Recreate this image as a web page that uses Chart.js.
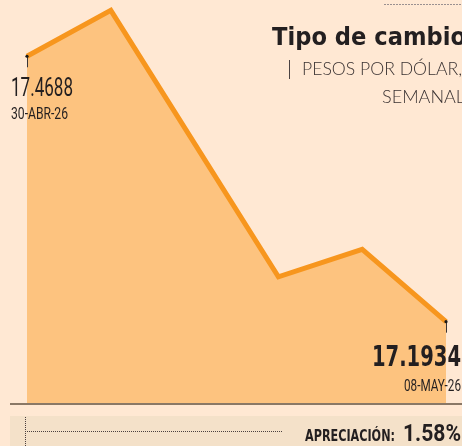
<!DOCTYPE html>
<html>
<head>
<meta charset="utf-8">
<script src="https://cdn.jsdelivr.net/npm/chart.js@4/dist/chart.umd.min.js"></script>
<style>
  html, body { margin: 0; padding: 0; background: #ffe8d3; overflow: hidden; }
  canvas { display: block; }
</style>
</head>
<body>
<canvas id="grafica" width="462" height="446"></canvas>
<script>
// datos (dias habiles, un dia sin dato)
const fechas = ["30-ABR-26", "04-MAY-26", "05-MAY-26", "06-MAY-26", "07-MAY-26", "08-MAY-26"];
const tipoCambio = [17.4688, 17.5165, null, 17.2400, 17.2684, 17.1934];
const titulo = "Tipo de cambio";
const subtitulo = ["PESOS POR DÓLAR,", "SEMANAL"];
const etiquetaApreciacion = "APRECIACIÓN:";
const apreciacion = "1.58%";

const TINTA = "#231f20";
const NARANJA = "#f7961e";
const RELLENO = "#fdc37f";

// texto ajustado al ancho (las fuentes del original son condensadas)
function texto(ctx, t, x, y, font, ancho, align, color) {
  ctx.save();
  ctx.font = font;
  ctx.fillStyle = color || TINTA;
  ctx.textAlign = "left";
  ctx.textBaseline = "alphabetic";
  const w = ctx.measureText(t).width;
  const sx = ancho ? ancho / w : 1;
  const x0 = align === "right" ? x - w * sx : x;
  ctx.translate(x0, y);
  ctx.scale(sx, 1);
  ctx.fillText(t, 0, 0);
  ctx.restore();
}

const decoracion = {
  id: "decoracion",
  beforeDraw(chart) {
    const ctx = chart.ctx;
    const { width, height } = chart;
    ctx.save();
    ctx.fillStyle = "#ffe8d3";
    ctx.fillRect(0, 0, width, height);
    // franja inferior
    ctx.fillStyle = "#f4e1c9";
    ctx.fillRect(10, 416, width - 10, height - 416);
    ctx.strokeStyle = "#4a4040";
    ctx.lineWidth = 1;
    ctx.setLineDash([1, 1]);
    ctx.beginPath();
    ctx.moveTo(25.5, 417);
    ctx.lineTo(25.5, height);
    ctx.moveTo(25, 431.5);
    ctx.lineTo(283, 431.5);
    ctx.stroke();
    // linea punteada arriba a la derecha
    ctx.strokeStyle = "#9a9090";
    ctx.setLineDash([2, 1]);
    ctx.beginPath();
    ctx.moveTo(384, 4.5);
    ctx.lineTo(width, 4.5);
    ctx.stroke();
    ctx.restore();
  },
  afterDatasetsDraw(chart) {
    const ctx = chart.ctx;
    const area = chart.chartArea;
    const pts = chart.getDatasetMeta(0).data.filter((p, i) => tipoCambio[i] !== null);
    const primero = pts[0];
    const ultimo = pts[pts.length - 1];
    ctx.save();
    // linea base
    ctx.fillStyle = "#8a7866";
    ctx.fillRect(10, area.bottom, chart.width - 10, 2);
    // marcas en extremos
    ctx.strokeStyle = "#3a3535";
    ctx.lineWidth = 1;
    [primero, ultimo].forEach(p => {
      ctx.beginPath();
      ctx.moveTo(Math.round(p.x) + 0.5, p.y);
      ctx.lineTo(Math.round(p.x) + 0.5, p.y + 11);
      ctx.stroke();
      ctx.fillStyle = "#1a1a1a";
      ctx.beginPath();
      ctx.arc(p.x, p.y, 1.6, 0, Math.PI * 2);
      ctx.fill();
    });
    // etiquetas de valor
    texto(ctx, tipoCambio[0].toFixed(4), primero.x - 16, primero.y + 40, "25px Roboto", 62);
    texto(ctx, fechas[0], primero.x - 16, primero.y + 63, "17px Roboto", 57);
    const n = tipoCambio.length - 1;
    texto(ctx, tipoCambio[n].toFixed(4), ultimo.x + 15, ultimo.y + 44, "bold 28px 'DejaVu Sans'", 89, "right");
    texto(ctx, fechas[n], ultimo.x + 15, ultimo.y + 69, "17px Roboto", 57, "right");
    // titulo
    texto(ctx, titulo, 272, 45, "bold 24px 'DejaVu Sans'", 194);
    ctx.fillStyle = "#4a4242";
    ctx.fillRect(289, 60, 1, 19);
    texto(ctx, subtitulo[0], 302, 75, "300 17px Lato", 160, null, "#3a3232");
    texto(ctx, subtitulo[1], 382, 103, "300 17px Lato", 83, null, "#3a3232");
    // apreciacion
    texto(ctx, etiquetaApreciacion, 305, 441, "bold 15px 'DejaVu Sans'", 90);
    texto(ctx, apreciacion, 403, 441, "bold 23px Roboto", 58);
    ctx.restore();
  }
};

new Chart(document.getElementById("grafica"), {
  type: "line",
  data: {
    labels: fechas,
    datasets: [{
      data: tipoCambio,
      borderColor: NARANJA,
      backgroundColor: RELLENO,
      borderWidth: 5,
      borderJoinStyle: "miter",
      fill: "start",
      spanGaps: true,
      tension: 0,
      pointRadius: 0,
    }],
  },
  options: {
    responsive: false,
    animation: false,
    layout: { padding: { left: 27, right: 16, top: 5, bottom: 43 } },
    plugins: { legend: { display: false }, tooltip: { enabled: false } },
    scales: {
      x: { display: false, offset: false },
      y: { display: false, min: 17.109, max: 17.522 },
    },
  },
  plugins: [decoracion],
});
</script>
</body>
</html>
